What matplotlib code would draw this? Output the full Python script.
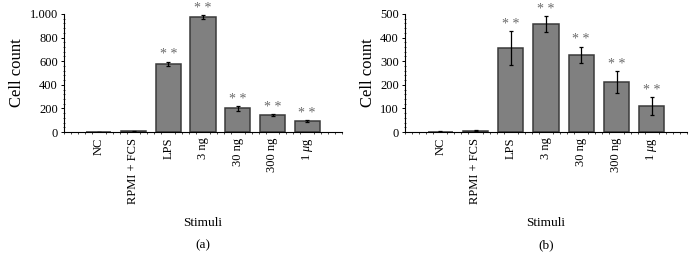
import matplotlib
matplotlib.use("Agg")
import matplotlib.pyplot as plt
from matplotlib.ticker import MultipleLocator, FuncFormatter

categories = ["NC", "RPMI + FCS", "LPS", "3 ng", "30 ng", "300 ng", "1 $\\mu$g"]
values_a = [3, 5, 578, 975, 200, 143, 93]
errors_a = [1, 1, 18, 15, 20, 10, 8]
values_b = [2, 5, 355, 458, 327, 212, 110]
errors_b = [1, 2, 72, 33, 35, 45, 38]
sig_a = ["", "", "**", "**", "**", "**", "**"]
sig_b = ["", "", "**", "**", "**", "**", "**"]

plt.rcParams['font.family'] = ['Liberation Serif', 'DejaVu Serif']
plt.rcParams['mathtext.fontset'] = 'custom'
plt.rcParams['mathtext.it'] = 'Liberation Serif:italic'
plt.rcParams['mathtext.rm'] = 'Liberation Serif'

fig = plt.figure(figsize=(6.96, 2.71), dpi=100)

def panel(rect, vals, errs, sigs, ymax, ystep, letter, fmt):
    ax = fig.add_axes(rect)
    x = list(range(len(categories)))
    ax.bar(x, vals, width=0.72, color='#808080', edgecolor='#3a3a3a', linewidth=1.1, zorder=2)
    ax.errorbar(x, vals, yerr=errs, fmt='none', ecolor='black', elinewidth=0.9,
                capsize=1.5, capthick=0.9, zorder=3)
    for xi, v, e, s in zip(x, vals, errs, sigs):
        if s:
            ax.text(xi, v + e + ymax * 0.003, "* *", ha='center', va='bottom',
                    fontsize=10, color='#6a6a6a')
    ax.set_xlim(-1, 7)
    ax.set_ylim(0, ymax)
    ax.spines['top'].set_visible(False)
    ax.spines['right'].set_visible(False)
    ax.spines['left'].set_linewidth(0.8)
    ax.spines['bottom'].set_linewidth(0.8)
    ax.yaxis.set_major_locator(MultipleLocator(ystep))
    ax.yaxis.set_minor_locator(MultipleLocator(ystep / 5))
    ax.yaxis.set_major_formatter(FuncFormatter(fmt))
    ax.xaxis.set_minor_locator(MultipleLocator(0.2))
    ax.set_xticks(x)
    ax.set_xticklabels(categories, rotation=90, fontsize=9)
    ax.tick_params(axis='x', which='major', length=0, pad=4)
    ax.tick_params(axis='x', which='minor', length=1.5, width=0.5, direction='out')
    ax.tick_params(axis='y', which='major', length=2.5, width=0.7, labelsize=9, pad=2)
    ax.tick_params(axis='y', which='minor', length=1.5, width=0.5, direction='inout')
    ax.set_ylabel("Cell count", fontsize=12, labelpad=3)
    cx = rect[0] + rect[2] / 2
    fig.text(cx, 1 - 223 / 271, "Stimuli", ha='center', va='center', fontsize=9.5)
    fig.text(cx, 1 - 245 / 271, letter, ha='center', va='center', fontsize=9.5)
    return ax

fmt_a = lambda v, p: ("1.000" if v == 1000 else f"{int(v)}")
fmt_b = lambda v, p: f"{int(v)}"

panel([64 / 696, 1 - 132 / 271, 278 / 696, 118 / 271], values_a, errors_a, sig_a,
      1000, 200, "(a)", fmt_a)
panel([405 / 696, 1 - 132 / 271, 282 / 696, 118 / 271], values_b, errors_b, sig_b,
      500, 100, "(b)", fmt_b)

fig.savefig("out.png", dpi=100)
